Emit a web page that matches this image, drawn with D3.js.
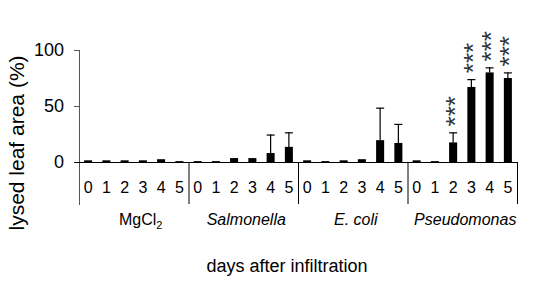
<!DOCTYPE html>
<html>
<head>
<meta charset="utf-8">
<script src="https://cdn.jsdelivr.net/npm/d3@7"></script>
<style>
  html, body { margin: 0; padding: 0; background: #fff; }
  svg { display: block; font-family: Arial, "Liberation Sans", sans-serif; }
</style>
</head>
<body>
<svg id="chart" width="538" height="284"></svg>
<script>
// ---- data ----
const groups = ["MgCl2", "Salmonella", "E. coli", "Pseudomonas"];
const days = ["0", "1", "2", "3", "4", "5"];
const mgcl2Values = [1.5, 1.5, 1.5, 1.5, 2.5, 0.8];
const mgcl2Errors = [0, 0, 0, 0, 0, 0];
const salmonellaValues = [0.8, 0.8, 3.5, 3.5, 8, 13.5];
const salmonellaErrors = [0, 0, 0, 0, 16.5, 13];
const ecoliValues = [1.5, 0.8, 1.5, 2.5, 19.5, 17];
const ecoliErrors = [0, 0, 0, 0, 29, 17];
const pseudomonasValues = [1.5, 0.8, 17.5, 67, 80, 75];
const pseudomonasErrors = [0, 0, 9, 7, 4.5, 5];
const pseudomonasStars = ["", "", "***", "***", "***", "***"];
const yTicks = [0, 50, 100];
const yTitle = "lysed leaf area (%)";
const xTitle = "days after infiltration";

const seriesVals = [mgcl2Values, salmonellaValues, ecoliValues, pseudomonasValues];
const seriesErrs = [mgcl2Errors, salmonellaErrors, ecoliErrors, pseudomonasErrors];
const seriesStars = [["","","","","",""], ["","","","","",""], ["","","","","",""], pseudomonasStars];

const rows = [];
groups.forEach((g, gi) => days.forEach((d, di) => rows.push({
  key: g + "|" + d, group: g, day: d,
  value: seriesVals[gi][di], err: seriesErrs[gi][di], stars: seriesStars[gi][di]
})));

// ---- layout ----
const svg = d3.select("#chart");
const x0 = 79, x1 = 517, yTop = 50, yZero = 162;
const x = d3.scaleBand().domain(rows.map(r => r.key)).range([x0, x1]).paddingInner(0.56).paddingOuter(0.28);
const xg = d3.scaleBand().domain(groups).range([x0, x1]);
const y = d3.scaleLinear().domain([0, 100]).range([yZero, yTop]);

// y axis
const yAxis = svg.append("g").attr("transform", `translate(${x0},0)`)
  .call(d3.axisLeft(y).tickValues(yTicks).tickSize(5).tickPadding(10).tickFormat(d3.format("d")));
yAxis.select(".domain").remove();
yAxis.selectAll(".tick line").attr("stroke", "#555");
yAxis.selectAll(".tick text").attr("font-size", 18).attr("fill", "#000")
  .attr("font-family", "Arial, 'Liberation Sans', sans-serif");
svg.append("line").attr("x1", x0 + 0.5).attr("x2", x0 + 0.5).attr("y1", yTop).attr("y2", 205)
  .attr("stroke", "#555");

// group separators
svg.selectAll(".sep").data(groups.slice(1).concat(["end"])).enter().append("line")
  .attr("x1", (d, i) => (i < 3 ? xg(d) : x1) + 0.5)
  .attr("x2", (d, i) => (i < 3 ? xg(d) : x1) + 0.5)
  .attr("y1", yZero).attr("y2", 204).attr("stroke", "#000");

// bars
svg.selectAll(".bar").data(rows).enter().append("rect")
  .attr("x", d => x(d.key)).attr("width", x.bandwidth())
  .attr("y", d => y(d.value)).attr("height", d => yZero - y(d.value))
  .attr("fill", "#000");

// error bars
const eb = rows.filter(r => r.err > 0);
svg.selectAll(".ebv").data(eb).enter().append("line")
  .attr("x1", d => x(d.key) + x.bandwidth() / 2).attr("x2", d => x(d.key) + x.bandwidth() / 2)
  .attr("y1", d => y(d.value)).attr("y2", d => y(d.value + d.err))
  .attr("stroke", "#000").attr("stroke-width", 1.2);
svg.selectAll(".ebc").data(eb).enter().append("line")
  .attr("x1", d => x(d.key)).attr("x2", d => x(d.key) + x.bandwidth())
  .attr("y1", d => y(d.value + d.err) + 0.5).attr("y2", d => y(d.value + d.err) + 0.5)
  .attr("stroke", "#000").attr("stroke-width", 1.2);

// baseline
svg.append("line").attr("x1", x0 - 5).attr("x2", x1).attr("y1", yZero + 0.5).attr("y2", yZero + 0.5)
  .attr("stroke", "#000");

// significance stars: one text per column, stacked by rotating the string
const starFont = 26;
svg.selectAll(".stars").data(rows.filter(r => r.stars)).enter().append("text")
  .attr("transform", d => {
    const cx = x(d.key) + x.bandwidth() / 2 + starFont * 0.4;
    const py = y(d.value + d.err) - 11 + starFont * 0.389 / 2;
    return `translate(${cx},${py}) rotate(-90)`;
  })
  .attr("text-anchor", "start").attr("font-size", starFont).attr("fill", "#333")
  .text(d => d.stars);

// day labels
svg.selectAll(".day").data(rows).enter().append("text")
  .attr("x", d => x(d.key) + x.bandwidth() / 2).attr("y", 193)
  .attr("text-anchor", "middle").attr("font-size", 16).attr("fill", "#000").text(d => d.day);

// group labels
const gl = svg.selectAll(".grp").data(groups).enter().append("text")
  .attr("x", (d, i) => xg(d) + xg.bandwidth() / 2 + (i === 0 ? 7 : 3)).attr("y", 225)
  .attr("text-anchor", "middle").attr("font-size", 16).attr("fill", "#000")
  .attr("font-style", d => d === "MgCl2" ? "normal" : "italic");
gl.each(function(d) {
  const t = d3.select(this);
  if (d === "MgCl2") {
    t.append("tspan").text("MgCl");
    t.append("tspan").attr("font-size", 11).attr("dy", 4).text("2");
  } else t.text(d);
});

// axis titles
svg.append("text").attr("transform", `translate(24,143) rotate(-90)`)
  .attr("text-anchor", "middle").attr("font-size", 21).attr("fill", "#000").text(yTitle);
svg.append("text").attr("x", 287).attr("y", 272).attr("text-anchor", "middle")
  .attr("font-size", 18).attr("fill", "#000").text(xTitle);
</script>
</body>
</html>
